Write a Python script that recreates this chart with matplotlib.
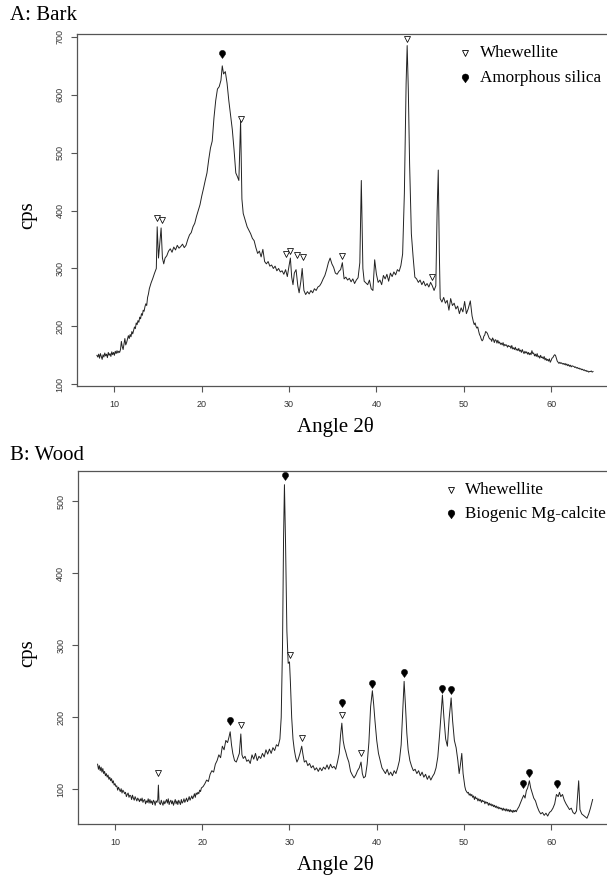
import numpy as np
import matplotlib
matplotlib.use("Agg")
import matplotlib.pyplot as plt
from matplotlib.path import Path

plt.rcParams['font.family'] = ['Liberation Serif', 'DejaVu Serif']

# ---------------- Panel A: Bark ----------------
bark_2theta = [
    8.0, 8.1, 8.2, 8.3, 8.4, 8.5, 8.6, 8.7, 8.8, 8.9,
    9.0, 9.1, 9.2, 9.3, 9.4, 9.5, 9.6, 9.7, 9.8, 9.9,
    10.0, 10.1, 10.2, 10.3, 10.4, 10.5, 10.6, 10.7, 10.8, 10.9,
    11.0, 11.1, 11.2, 11.3, 11.4, 11.5, 11.6, 11.7, 11.8, 11.9,
    12.0, 12.1, 12.2, 12.3, 12.4, 12.5, 12.6, 12.7, 12.8, 12.9,
    13.0, 13.1, 13.2, 13.3, 13.4, 13.5, 13.6, 13.7, 13.8, 13.9,
    14.0, 14.2, 14.4, 14.6, 14.8, 14.9, 15.05, 15.35, 15.5, 15.65,
    15.8, 16.0, 16.2, 16.4, 16.6, 16.8, 17.0, 17.2, 17.4, 17.6,
    17.8, 18.0, 18.2, 18.4, 18.6, 18.8, 19.0, 19.2, 19.4, 19.6,
    19.8, 20.0, 20.2, 20.4, 20.6, 20.8, 21.0, 21.2, 21.4, 21.6,
    21.8, 22.0, 22.2, 22.35, 22.5, 22.7, 22.9, 23.1, 23.3, 23.5,
    23.7, 23.9, 24.1, 24.25, 24.45, 24.6, 24.75, 25.0, 25.2, 25.4,
    25.6, 25.8, 26.0, 26.2, 26.4, 26.6, 26.8, 27.0, 27.2, 27.4,
    27.6, 27.8, 28.0, 28.2, 28.4, 28.6, 28.8, 29.0, 29.2, 29.4,
    29.6, 29.8, 30.0, 30.15, 30.3, 30.45, 30.6, 30.8, 31.0, 31.15,
    31.35, 31.5, 31.7, 31.9, 32.1, 32.3, 32.5, 32.7, 32.9, 33.1,
    33.3, 33.5, 33.7, 33.9, 34.1, 34.3, 34.5, 34.7, 34.9, 35.1,
    35.3, 35.5, 35.7, 35.9, 36.1, 36.3, 36.5, 36.7, 36.9, 37.1,
    37.3, 37.5, 37.7, 37.9, 38.1, 38.27, 38.45, 38.6, 38.8, 39.0,
    39.2, 39.4, 39.6, 39.8, 40.0, 40.2, 40.4, 40.6, 40.8, 41.0,
    41.2, 41.4, 41.6, 41.8, 42.0, 42.2, 42.4, 42.6, 42.8, 43.0,
    43.2, 43.4, 43.52, 43.65, 43.8, 44.0, 44.2, 44.4, 44.6, 44.8,
    45.0, 45.2, 45.4, 45.6, 45.8, 46.0, 46.2, 46.4, 46.6, 46.8,
    46.95, 47.08, 47.2, 47.3, 47.5, 47.7, 47.9, 48.1, 48.3, 48.5,
    48.7, 48.9, 49.1, 49.3, 49.5, 49.7, 49.9, 50.1, 50.3, 50.5,
    50.75, 50.95, 51.1, 51.2, 51.3, 51.4, 51.5, 51.6, 51.7, 51.8,
    51.9, 52.0, 52.1, 52.2, 52.3, 52.4, 52.5, 52.6, 52.7, 52.8,
    52.9, 53.0, 53.1, 53.2, 53.3, 53.4, 53.5, 53.6, 53.7, 53.8,
    53.9, 54.0, 54.1, 54.2, 54.3, 54.4, 54.5, 54.6, 54.7, 54.8,
    54.9, 55.0, 55.1, 55.2, 55.3, 55.4, 55.5, 55.6, 55.7, 55.8,
    55.9, 56.0, 56.1, 56.2, 56.3, 56.4, 56.5, 56.6, 56.7, 56.8,
    56.9, 57.0, 57.1, 57.2, 57.3, 57.4, 57.5, 57.6, 57.7, 57.8,
    57.9, 58.0, 58.1, 58.2, 58.3, 58.4, 58.5, 58.6, 58.7, 58.8,
    58.9, 59.0, 59.1, 59.2, 59.3, 59.4, 59.5, 59.6, 59.7, 59.8,
    59.9, 60.0, 60.1, 60.2, 60.3, 60.4, 60.5, 60.6, 60.7, 60.8,
    60.9, 61.0, 61.1, 61.2, 61.3, 61.4, 61.5, 61.6, 61.7, 61.8,
    61.9, 62.0, 62.1, 62.2, 62.3, 62.4, 62.5, 62.6, 62.7, 62.8,
    62.9, 63.0, 63.1, 63.2, 63.3, 63.4, 63.5, 63.6, 63.7, 63.8,
    63.9, 64.0, 64.1, 64.2, 64.3, 64.4, 64.5, 64.6, 64.7, 64.8]
bark_cps = [
    150, 147, 152, 145, 153, 148, 143, 151, 147, 154,
    149, 152, 146, 155, 150, 153, 148, 156, 151, 155,
    150, 157, 153, 158, 154, 157, 155, 160, 174, 165,
    160, 170, 179, 168, 172, 178, 184, 179, 186, 182,
    191, 187, 193, 199, 196, 206, 203, 210, 207, 216,
    213, 222, 219, 228, 226, 234, 239, 236, 250, 256,
    265, 275, 283, 292, 300, 372, 318, 370, 318, 308,
    318, 322, 330, 334, 328, 337, 332, 340, 335, 338,
    342, 336, 340, 350, 358, 362, 372, 378, 390, 400,
    410, 425, 438, 452, 465, 488, 508, 520, 560, 590,
    610, 614, 625, 650, 636, 640, 620, 590, 565, 540,
    505, 465, 458, 452, 555, 420, 395, 382, 372, 366,
    360, 352, 348, 336, 326, 330, 320, 333, 312, 308,
    312, 304, 306, 300, 304, 296, 300, 294, 296, 290,
    298, 286, 305, 318, 285, 272, 292, 298, 270, 258,
    278, 300, 262, 255, 260, 256, 262, 258, 265, 262,
    268, 270, 275, 282, 288, 298, 310, 318, 308, 302,
    292, 290, 295, 298, 310, 282, 285, 280, 283, 277,
    282, 274, 280, 284, 310, 452, 300, 278, 275, 272,
    280, 265, 262, 315, 290, 276, 280, 272, 288, 282,
    290, 278, 292, 286, 294, 289, 298, 295, 305, 325,
    430, 620, 685, 610, 480, 360, 320, 285, 282, 276,
    280, 272, 278, 270, 274, 268, 276, 270, 262, 270,
    400, 470, 330, 248, 242, 250, 240, 245, 228, 248,
    236, 240, 230, 235, 222, 232, 225, 243, 222, 230,
    244, 218, 208, 203, 206, 200, 197, 199, 192, 186,
    183, 178, 175, 177, 183, 185, 191, 190, 188, 184,
    180, 178, 178, 174, 180, 177, 172, 177, 176, 171,
    176, 171, 173, 169, 171, 168, 172, 166, 169, 167,
    168, 164, 167, 165, 166, 162, 167, 161, 163, 160,
    164, 159, 161, 158, 162, 157, 159, 155, 160, 156,
    153, 157, 154, 156, 152, 155, 151, 154, 151, 158,
    153, 154, 149, 152, 148, 153, 147, 149, 145, 150,
    146, 147, 144, 148, 142, 145, 141, 143, 140, 144,
    138, 141, 145, 146, 149, 151, 150, 145, 140, 138,
    136, 138, 136, 137, 135, 136, 134, 136, 133, 135,
    132, 134, 131, 133, 130, 132, 131, 131, 129, 130,
    128, 129, 127, 128, 126, 127, 125, 126, 124, 125,
    123, 124, 122, 123, 121, 122, 122, 123, 121, 122]

bark_whew_x = [14.9, 15.4, 24.44, 29.6, 30.15, 30.9, 31.55, 36.1, 43.53, 46.4]
bark_whew_y = [388, 383, 558, 325, 331, 324, 319, 322, 696, 286]
bark_silica_x = [22.34]
bark_silica_y = [671]

# ---------------- Panel B: Wood ----------------
wood_2theta = [
    8.0, 8.1, 8.2, 8.3, 8.4, 8.5, 8.6, 8.7, 8.8, 8.9,
    9.0, 9.1, 9.2, 9.3, 9.4, 9.5, 9.6, 9.7, 9.8, 9.9,
    10.0, 10.1, 10.2, 10.3, 10.4, 10.5, 10.6, 10.7, 10.8, 10.9,
    11.0, 11.1, 11.2, 11.3, 11.4, 11.5, 11.6, 11.7, 11.8, 11.9,
    12.0, 12.1, 12.2, 12.3, 12.4, 12.5, 12.6, 12.7, 12.8, 12.9,
    13.0, 13.1, 13.2, 13.3, 13.4, 13.5, 13.6, 13.7, 13.8, 13.9,
    14.0, 14.1, 14.2, 14.3, 14.4, 14.5, 14.6, 14.7, 14.8, 14.9,
    14.97, 15.05, 15.2, 15.3, 15.4, 15.5, 15.6, 15.7, 15.8, 15.9,
    16.0, 16.1, 16.2, 16.3, 16.4, 16.5, 16.6, 16.7, 16.8, 16.9,
    17.0, 17.1, 17.2, 17.3, 17.4, 17.5, 17.6, 17.7, 17.8, 17.9,
    18.0, 18.1, 18.2, 18.3, 18.4, 18.5, 18.6, 18.7, 18.8, 18.9,
    19.0, 19.1, 19.2, 19.3, 19.4, 19.5, 19.6, 19.7, 19.8, 19.9,
    20.1, 20.3, 20.5, 20.7, 20.9, 21.1, 21.3, 21.5, 21.7, 21.9,
    22.1, 22.3, 22.5, 22.7, 22.9, 23.05, 23.2, 23.35, 23.5, 23.7,
    23.9, 24.1, 24.25, 24.42, 24.55, 24.7, 24.9, 25.1, 25.3, 25.5,
    25.7, 25.9, 26.1, 26.3, 26.5, 26.7, 26.9, 27.1, 27.3, 27.5,
    27.7, 27.9, 28.1, 28.3, 28.5, 28.7, 28.9, 29.05, 29.2, 29.32,
    29.42, 29.55, 29.7, 29.85, 30.0, 30.1, 30.25, 30.4, 30.55, 30.7,
    30.85, 31.0, 31.2, 31.4, 31.55, 31.7, 31.9, 32.1, 32.3, 32.5,
    32.7, 32.9, 33.1, 33.3, 33.5, 33.7, 33.9, 34.1, 34.3, 34.5,
    34.7, 34.9, 35.1, 35.3, 35.5, 35.7, 35.85, 36.0, 36.15, 36.3,
    36.45, 36.6, 36.8, 37.0, 37.2, 37.4, 37.6, 37.8, 38.0, 38.2,
    38.35, 38.5, 38.7, 38.9, 39.1, 39.3, 39.5, 39.65, 39.8, 40.0,
    40.2, 40.4, 40.6, 40.8, 41.0, 41.2, 41.4, 41.6, 41.8, 42.0,
    42.2, 42.4, 42.6, 42.8, 43.0, 43.14, 43.3, 43.45, 43.6, 43.8,
    44.0, 44.2, 44.4, 44.6, 44.8, 45.0, 45.2, 45.4, 45.6, 45.8,
    46.0, 46.2, 46.4, 46.6, 46.8, 47.0, 47.2, 47.35, 47.53, 47.7,
    47.9, 48.1, 48.3, 48.53, 48.7, 48.9, 49.1, 49.3, 49.45, 49.6,
    49.75, 49.9, 50.1, 50.2, 50.3, 50.4, 50.5, 50.6, 50.7, 50.8,
    50.9, 51.0, 51.1, 51.2, 51.3, 51.4, 51.5, 51.6, 51.7, 51.8,
    51.9, 52.0, 52.1, 52.2, 52.3, 52.4, 52.5, 52.6, 52.7, 52.8,
    52.9, 53.0, 53.1, 53.2, 53.3, 53.4, 53.5, 53.6, 53.7, 53.8,
    53.9, 54.0, 54.1, 54.2, 54.3, 54.4, 54.5, 54.6, 54.7, 54.8,
    54.9, 55.0, 55.1, 55.2, 55.3, 55.4, 55.5, 55.6, 55.7, 55.8,
    55.9, 56.0, 56.1, 56.3, 56.5, 56.7, 56.85, 57.0, 57.15, 57.3,
    57.5, 57.65, 57.8, 58.0, 58.2, 58.4, 58.6, 58.8, 59.0, 59.2,
    59.4, 59.6, 59.8, 60.0, 60.2, 60.4, 60.6, 60.8, 60.95, 61.1,
    61.3, 61.5, 61.7, 61.9, 62.1, 62.3, 62.5, 62.7, 62.9, 63.05,
    63.15, 63.3, 63.5, 63.7, 63.9, 64.1, 64.3, 64.5, 64.75]
wood_cps = [
    135, 128, 133, 126, 131, 124, 129, 122, 125, 119,
    122, 117, 120, 114, 117, 112, 115, 109, 112, 106,
    108, 104, 105, 99, 103, 100, 97, 101, 95, 99,
    97, 94, 96, 90, 93, 95, 89, 92, 91, 86,
    92, 88, 85, 90, 87, 84, 88, 86, 83, 87,
    84, 88, 82, 85, 86, 80, 84, 82, 87, 81,
    86, 81, 84, 79, 85, 83, 78, 84, 82, 86,
    106, 82, 79, 85, 81, 78, 84, 80, 83, 86,
    81, 87, 79, 83, 85, 80, 84, 78, 82, 86,
    80, 84, 79, 85, 82, 79, 86, 81, 83, 87,
    82, 85, 88, 83, 86, 90, 85, 88, 91, 87,
    90, 94, 89, 95, 93, 96, 94, 99, 97, 102,
    104, 108, 113, 111, 121, 126, 124, 135, 140, 148,
    144, 160, 155, 168, 165, 172, 180, 162, 150, 140,
    138, 145, 150, 177, 148, 143, 146, 139, 141, 136,
    148, 142, 150, 140, 146, 143, 150, 145, 155, 149,
    156, 150, 158, 154, 162, 160, 170, 200, 300, 450,
    523, 440, 320, 275, 277, 250, 200, 170, 155, 145,
    138, 142, 150, 160, 148, 138, 140, 133, 136, 130,
    133, 127, 130, 125, 130, 126, 131, 128, 134, 128,
    135, 130, 132, 128, 138, 150, 175, 192, 168, 158,
    152, 145, 138, 125, 120, 116, 120, 126, 130, 138,
    122, 116, 118, 135, 165, 215, 237, 218, 195, 168,
    150, 140, 130, 126, 122, 128, 120, 124, 119, 126,
    122, 130, 140, 162, 215, 250, 215, 178, 155, 140,
    132, 126, 128, 122, 126, 119, 124, 117, 121, 114,
    119, 113, 118, 122, 130, 145, 175, 200, 231, 200,
    170, 160, 198, 227, 195, 168, 158, 140, 122, 135,
    150, 122, 104, 99, 97, 95, 96, 92, 94, 91,
    93, 89, 91, 86, 90, 87, 88, 84, 87, 84,
    86, 82, 85, 83, 84, 80, 83, 81, 82, 78,
    81, 78, 80, 77, 79, 76, 78, 75, 77, 74,
    76, 73, 75, 73, 74, 71, 74, 71, 73, 70,
    73, 70, 72, 69, 72, 69, 71, 68, 71, 69,
    71, 69, 72, 76, 82, 88, 92, 88, 98, 102,
    112, 102, 96, 88, 84, 76, 70, 66, 68, 64,
    67, 63, 68, 70, 74, 80, 93, 90, 96, 90,
    93, 85, 80, 76, 72, 74, 68, 66, 70, 95,
    112, 72, 66, 64, 62, 60, 66, 74, 86]

wood_whew_x = [14.97, 24.42, 30.07, 31.4, 36.0, 38.2]
wood_whew_y = [123, 189, 287, 171, 203, 150]
wood_calc_x = [23.19, 29.45, 36.0, 39.5, 43.14, 47.53, 48.53, 56.75, 57.48, 60.7]
wood_calc_y = [195, 535, 220, 247, 261, 240, 238, 108, 123, 107]

x_ticks = [10, 20, 30, 40, 50, 60]
bark_y_ticks = [100, 200, 300, 400, 500, 600, 700]
wood_y_ticks = [100, 200, 300, 400, 500]

# teardrop marker (point at bottom)
t = np.linspace(np.pi * 1.12, -np.pi * 0.12, 40)
drop_verts = [(0.0, -1.3)] + [(np.cos(a), 0.35 + np.sin(a)) for a in t] + [(0.0, -1.3)]
drop = Path(drop_verts, closed=True)

W, H = 607, 875
fig = plt.figure(figsize=(W / 100, H / 100), dpi=100)

axis_col = '#555555'


def make_axes(left_px, top_px, bottom_px, right_px):
    return fig.add_axes([left_px / W, 1 - bottom_px / H, (right_px - left_px) / W, (bottom_px - top_px) / H])


def style(ax, yticks, ylim):
    ax.set_xlim(5.72, 67.28)
    ax.set_ylim(*ylim)
    ax.set_xticks(x_ticks)
    ax.set_yticks(yticks)
    for s in ['left', 'bottom', 'top']:
        ax.spines[s].set_color(axis_col)
        ax.spines[s].set_linewidth(0.9)
    ax.spines['right'].set_visible(False)
    ax.tick_params(axis='both', direction='out', length=4, width=0.8, color=axis_col,
                   labelsize=6.5, labelcolor='#333333')
    ax.tick_params(axis='x', pad=6)
    ax.tick_params(axis='y', pad=5)
    for lab in ax.get_xticklabels() + ax.get_yticklabels():
        lab.set_family(['Liberation Sans', 'DejaVu Sans'])
    for lab in ax.get_yticklabels():
        lab.set_rotation(90)
        lab.set_va('center')


def legend(ax, xm, xt, y1, y2, label2):
    ax.plot([xm], [y1], marker='v', ms=4.8, mfc='white', mec='black', mew=0.6,
            transform=ax.transAxes, clip_on=False, ls='none')
    ax.plot([xm], [y2], marker=drop, ms=6.5, mfc='black', mec='black', mew=0.3,
            transform=ax.transAxes, clip_on=False, ls='none')
    ax.text(xt, y1, 'Whewellite', transform=ax.transAxes, fontsize=12.3, va='center', ha='left')
    ax.text(xt, y2, label2, transform=ax.transAxes, fontsize=12.3, va='center', ha='left')


# Panel A
axA = make_axes(77, 34, 386, 614.7)
axA.plot(bark_2theta, bark_cps, color='#222222', lw=0.7)
axA.plot(bark_whew_x, bark_whew_y, ls='none', marker='v', ms=4.6, mfc='white', mec='black', mew=0.55)
axA.plot(bark_silica_x, bark_silica_y, ls='none', marker=drop, ms=6.0, mfc='black', mec='black', mew=0.3)
style(axA, bark_y_ticks, (97, 705))
legend(axA, 0.7216, 0.7495, 0.946, 0.875, 'Amorphous silica')

# Panel B
axB = make_axes(77.7, 471, 824, 614.7)
axB.plot(wood_2theta, wood_cps, color='#222222', lw=0.7)
axB.plot(wood_whew_x, wood_whew_y, ls='none', marker='v', ms=4.6, mfc='white', mec='black', mew=0.55)
axB.plot(wood_calc_x, wood_calc_y, ls='none', marker=drop, ms=6.0, mfc='black', mec='black', mew=0.3)
style(axB, wood_y_ticks, (52, 542))
legend(axB, 0.6946, 0.7212, 0.946, 0.878, 'Biogenic Mg-calcite')

# titles and axis labels
fig.text(9.7 / W, 1 - 15 / H, 'A: Bark', fontsize=15, ha='left', va='center')
fig.text(9.7 / W, 1 - 455 / H, 'B: Wood', fontsize=15, ha='left', va='center')
fig.text(335 / W, 1 - 427 / H, 'Angle 2θ', fontsize=15, ha='center', va='center')
fig.text(335 / W, 1 - 865 / H, 'Angle 2θ', fontsize=15, ha='center', va='center')
fig.text(28 / W, 1 - 215 / H, 'cps', fontsize=15, ha='center', va='center', rotation=90)
fig.text(28 / W, 1 - 653 / H, 'cps', fontsize=15, ha='center', va='center', rotation=90)

fig.savefig('out.png', dpi=100)
